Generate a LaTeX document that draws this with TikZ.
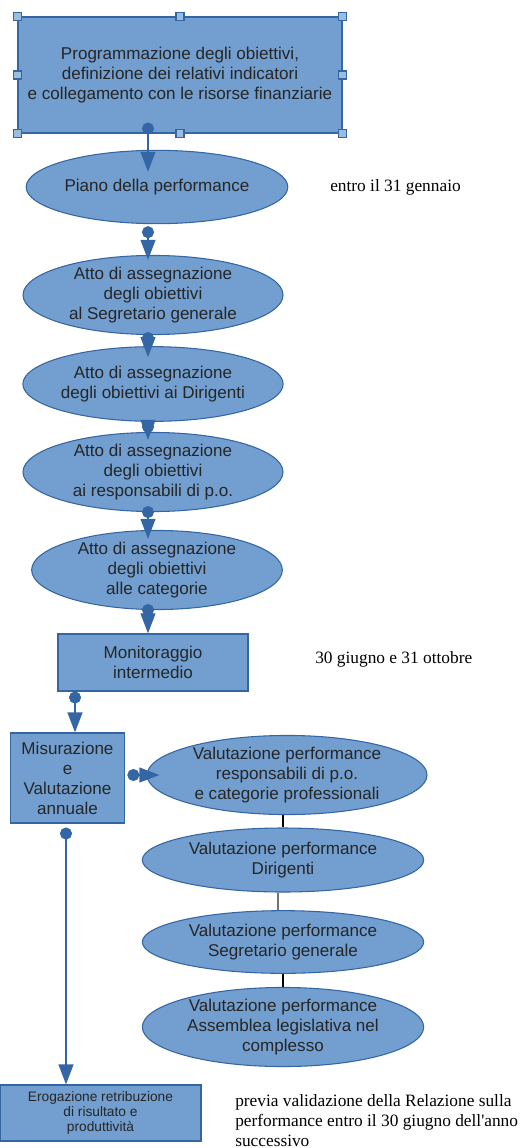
\documentclass[tikz,border=0pt]{standalone}
\usepackage{fontspec}
\setmainfont{Liberation Serif}
\setsansfont{Liberation Sans}
\usepackage{tikz}
\usetikzlibrary{arrows.meta, shapes.geometric}
\definecolor{boxfill}{HTML}{729FCF}
\definecolor{boxline}{HTML}{3465A4}
\tikzset{
  box/.style={draw=boxline, fill=boxfill, line width=0.8pt, inner sep=2pt, align=center,
    text=black!85, font=\sffamily\fontsize{12.8}{15}\selectfont},
  oval/.style={box, ellipse, inner sep=0pt},
  handle/.style={draw=boxline, fill=boxfill!70!white, line width=0.8pt, minimum size=6pt, inner sep=0pt},
  flow/.style={draw=boxline, line width=1.5pt, {Circle[length=9pt]}-{Triangle[length=15pt,width=11pt]}},
  link/.style={draw=black, line width=0.8pt},
  note/.style={align=left, font=\fontsize{13}{15}\selectfont, inner sep=0pt}
}

\begin{document}
\begin{tikzpicture}[x=0.75pt, y=-0.75pt]
\useasboundingbox (0,0) rectangle (521,1148);

% top box with its selection handles
\node at (180,75) [box, minimum width=243pt, minimum height=87pt] (prog)
  {Programmazione degli obiettivi,\\definizione dei relativi indicatori\\e collegamento con le risorse finanziarie};
\foreach \a [count=\i] in {north west, north, north east, west, east, south west, south, south east}
  \node at (prog.\a) [handle] (h\i) {};

% chain of ellipses
\node at (157,187) [oval, minimum width=188pt, minimum height=55pt] (piano) {Piano della performance};
\node at (153,295) [oval, minimum width=195pt, minimum height=55pt] (ass1)
  {Atto di assegnazione\\degli obiettivi\\al Segretario generale};
\node at (153,384) [oval, minimum width=195pt, minimum height=56pt] (ass2)
  {Atto di assegnazione\\degli obiettivi ai Dirigenti};
\node at (153,472) [oval, minimum width=195pt, minimum height=53pt] (ass3)
  {Atto di assegnazione\\degli obiettivi\\ai responsabili di p.o.};
\node at (157,570) [oval, minimum width=188pt, minimum height=55pt] (ass4)
  {Atto di assegnazione\\degli obiettivi\\alle categorie};

\node at (153,662.5) [box, minimum width=142.5pt, minimum height=42.75pt] (monit) {Monitoraggio\\intermedio};
\node at (67.5,778) [box, minimum width=86pt, minimum height=67.5pt] (misur)
  {Misurazione\\e\\Valutazione\\annuale};
\node at (100.5,1113) [box, minimum width=150.75pt, minimum height=42pt,
  font=\sffamily\fontsize{10.3}{11.5}\selectfont] (erog) {Erogazione retribuzione\\di risultato e\\produttività};

% valutazioni
\node at (287,775) [oval, minimum width=210pt, minimum height=49pt] (val1)
  {Valutazione performance\\responsabili di p.o.\\e categorie professionali};
\node at (283,860) [oval, minimum width=211pt, minimum height=48pt] (val2)
  {Valutazione performance\\Dirigenti};
\node at (283,942) [oval, minimum width=211pt, minimum height=47pt] (val3)
  {Valutazione performance\\Segretario generale};
\node at (283,1027) [oval, minimum width=211pt, minimum height=49pt] (val4)
  {Valutazione performance\\Assemblea legislativa nel\\complesso};

% notes
\node at (330,187) [note, anchor=west] (n1) {entro il 31 gennaio};
\node at (315,659) [note, anchor=west] (n2) {30 giugno e 31 ottobre};
\node at (235,1094) [note, anchor=north west] (n3)
  {previa validazione della Relazione sulla\\performance entro il 30 giugno dell\textquotesingle anno\\successivo};

% connectors
\coordinate (c1) at (148,0);
\coordinate (c2) at (75,0);
\coordinate (c3) at (66,0);
\foreach \a/\b/\s/\t in {prog/piano/-8.25/-16.5, piano/ass1/1.5/-3.75, ass1/ass2/-2.25/-8.25,
  ass2/ass3/-8.25/-6, ass3/ass4/-4.5/-6.75, ass4/monit/-4.5/0}
  \draw[flow, shorten <=\s pt, shorten >=\t pt] (\a.south -| c1) -- (\b.north -| c1);
\draw[flow] (monit.south -| c2) -- (misur.north -| c2);
\draw[flow, shorten <=3pt] (misur.south -| c3) -- (erog.north -| c3);
\draw[flow, shorten <=1.5pt, shorten >=-9.75pt] (misur.east |- val1.west) -- (val1.west);

\draw[link] (val1.south -| val2.north) -- (val2.north);
\draw[link, draw=black!55, line width=1.3pt] ([xshift=-4pt]val2.south) -- ([xshift=-4pt]val3.north);
\draw[link] (val3.south) -- (val4.north);

\end{tikzpicture}
\end{document}
